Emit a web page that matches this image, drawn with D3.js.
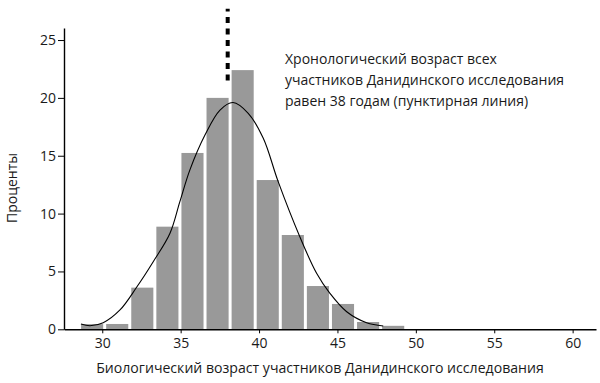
<!DOCTYPE html>
<html>
<head>
<meta charset="utf-8">
<script src="https://cdn.jsdelivr.net/npm/d3@7"></script>
<style>
  html, body { margin: 0; padding: 0; background: #fff; }
  svg { display: block; }
  text { font-family: "Open Sans", "Noto Sans", sans-serif; fill: #1a1a1a; }
</style>
</head>
<body>
<svg id="chart" width="600" height="383"></svg>
<script>
// ---- data ----
const binMids = [29.45, 31.05, 32.65, 34.25, 35.85, 37.45, 39.05, 40.65, 42.25, 43.85, 45.45, 47.05, 48.65];
const percents = [0.45, 0.46, 3.6, 8.87, 15.24, 20.0, 22.4, 12.9, 8.15, 3.74, 2.19, 0.63, 0.3];
const binWidth = 1.6;

const curveAges = [28.64, 29.22, 30.06, 31.13, 32.19, 33.25, 34.32, 34.95, 35.59, 36.55, 37.51, 38.34, 39.31, 40.27, 41.22, 42.60, 43.67, 44.52, 45.59, 46.86, 47.92];
const curvePercents = [0.46, 0.31, 0.57, 1.67, 3.63, 5.84, 8.30, 11.03, 13.78, 16.79, 18.95, 19.6, 18.67, 16.51, 12.76, 8.0, 4.84, 3.11, 1.52, 0.57, 0.29];

const chronoAge = 38;
const chronoRange = [21.5, 27.7];

const xTicks = [30, 35, 40, 45, 50, 55, 60];
const yTicks = [0, 5, 10, 15, 20, 25];

const xTitle = "Биологический возраст участников Данидинского исследования";
const yTitle = "Проценты";
const noteLines = [
  "Хронологический возраст всех",
  "участников Данидинского исследования",
  "равен 38 годам (пунктирная линия)"
];

// ---- layout ----
const svg = d3.select("#chart");
const mLeft = 64, mRight = 596, mTop = 28, mBottom = 329.3;

const x = d3.scaleLinear().domain([27.56, 61.49]).range([mLeft, mRight]);
const y = d3.scaleLinear().domain([0, 26.04]).range([mBottom, mTop]);

const barColor = "#999999";
const gapPx = 3;

// bars
svg.append("g").selectAll("rect")
  .data(binMids.map((m, i) => ({ m, v: percents[i] })))
  .join("rect")
  .attr("x", d => x(d.m - binWidth / 2))
  .attr("width", d => x(d.m + binWidth / 2) - x(d.m - binWidth / 2) - gapPx)
  .attr("y", d => y(d.v))
  .attr("height", d => y(0) - y(d.v))
  .attr("fill", barColor);

// fitted curve
const line = d3.line()
  .x(d => x(d[0]))
  .y(d => y(d[1]))
  .curve(d3.curveCatmullRom.alpha(0.5));
svg.append("path")
  .datum(curveAges.map((a, i) => [a, curvePercents[i]]))
  .attr("d", line)
  .attr("fill", "none")
  .attr("stroke", "#000")
  .attr("stroke-width", 1.1);

// chronological age dashed line
svg.append("line")
  .attr("x1", x(chronoAge)).attr("x2", x(chronoAge))
  .attr("y1", y(chronoRange[0])).attr("y2", y(chronoRange[1]))
  .attr("stroke", "#000")
  .attr("stroke-width", 4)
  .attr("stroke-dasharray", "6,5.5");

// axes
const xAxis = svg.append("g")
  .attr("transform", `translate(0,${mBottom})`)
  .call(d3.axisBottom(x).tickValues(xTicks).tickSize(4).tickSizeOuter(0));
xAxis.attr("font-family", null).attr("font-size", null);
xAxis.select(".domain").attr("stroke", "#000").attr("stroke-width", 1.4);
xAxis.selectAll(".tick line").attr("stroke", "#000");
xAxis.selectAll("text")
  .attr("dy", null).attr("y", 18.4).attr("fill", "#1a1a1a")
  .style("font-size", "14px");

const yAxis = svg.append("g")
  .attr("transform", `translate(${mLeft},0)`)
  .call(d3.axisLeft(y).tickValues(yTicks).tickSize(6).tickPadding(2).tickSizeOuter(0));
yAxis.attr("font-family", null).attr("font-size", null);
yAxis.select(".domain").attr("stroke", "#000").attr("stroke-width", 1.4);
yAxis.selectAll(".tick line").attr("stroke", "#000");
yAxis.selectAll("text").attr("fill", "#1a1a1a")
  .style("font-size", "14px");

// axis titles
svg.append("text")
  .attr("x", 320).attr("y", 372.7)
  .attr("text-anchor", "middle")
  .style("font-size", "14.1px")
  .text(xTitle);

svg.append("text")
  .attr("transform", "translate(17,188) rotate(-90)")
  .attr("text-anchor", "middle")
  .style("font-size", "14px")
  .text(yTitle);

// annotation
svg.append("g").selectAll("text")
  .data(noteLines)
  .join("text")
  .attr("x", 285)
  .attr("y", (d, i) => 64 + i * 20.8)
  .style("font-size", "14px")
  .text(d => d);
</script>
</body>
</html>
